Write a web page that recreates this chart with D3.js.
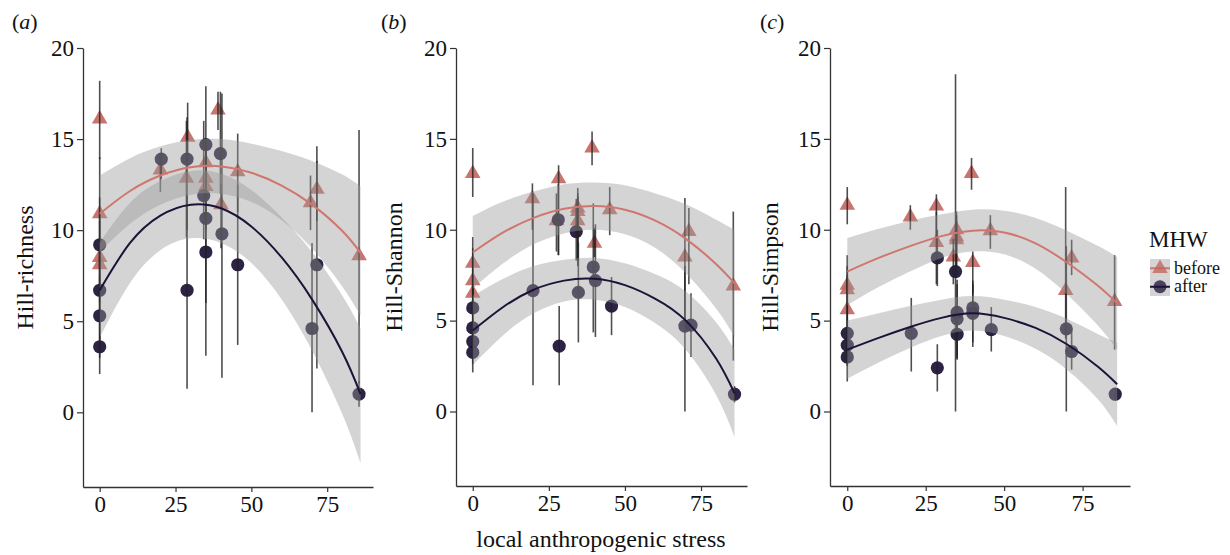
<!DOCTYPE html>
<html>
<head>
<meta charset="utf-8">
<script src="https://cdn.jsdelivr.net/npm/d3@7"></script>
<style>
  body { margin: 0; background: #fff; }
  text { font-family: "Liberation Serif", "Times New Roman", serif; fill: #111; }
</style>
</head>
<body>
<div id="chart"></div>
<script>
// [x, y, errLow, errHigh]
const beforeA = [
  [0, 16.1, 13.9, 18.2], [0, 10.9, 8.0, 11.8], [0, 8.5, 6.0, 11.0], [0, 8.1, 5.5, 10.5],
  [20, 13.3, 12.1, 14.2], [29, 15.1, 13.5, 17.0], [28.6, 12.85, 9.6, 16.0],
  [35, 13.7, 11.5, 15.0], [35, 12.85, 10.5, 14.5], [35, 12.4, 10.0, 14.8],
  [39, 16.6, 15.5, 17.6], [40, 11.4, 9.0, 12.5], [45.5, 13.2, 11.0, 15.3],
  [69.5, 11.5, 10.0, 13.0], [71.6, 12.25, 10.5, 14.6], [85.5, 8.6, 1.6, 15.5]
];
const afterA = [
  [0, 9.2, 6.5, 14.0], [0, 6.7, 4.0, 9.5], [0, 5.3, 3.0, 7.5], [0, 3.6, 2.1, 5.0],
  [20.3, 13.9, 12.8, 14.5], [28.8, 13.9, 10.0, 16.2], [28.8, 6.7, 1.3, 12.0],
  [35, 14.7, 12.5, 17.9], [34.3, 11.9, 9.5, 16.0], [35, 10.65, 6.0, 15.0], [35, 8.8, 3.1, 13.0],
  [39.8, 14.2, 12.0, 17.6], [40.3, 9.8, 1.9, 17.5], [45.5, 8.1, 3.7, 12.5],
  [70, 4.6, 0, 9.3], [71.6, 8.1, 2.4, 13.8], [85.5, 1.0, 0.3, 1.7]
];
const beforeB = [
  [0, 13.1, 11.8, 14.5], [0, 8.15, 6.5, 9.6], [0, 7.2, 5.5, 9.0], [0, 6.5, 4.5, 8.5],
  [19.6, 11.7, 10.0, 12.55], [28.2, 12.8, 8.6, 13.55], [27.5, 10.5, 8.8, 12.0],
  [34.5, 11.2, 9.0, 12.3], [34.5, 11.0, 8.3, 11.8], [34.5, 10.5, 8.0, 12.0],
  [39.2, 14.5, 13.55, 15.4], [40, 9.25, 8.5, 10.1], [45, 11.1, 9.7, 12.35],
  [69.7, 8.5, 5.0, 11.75], [71, 9.9, 7.0, 11.2], [85.6, 6.9, 2.8, 11.0]
];
const afterB = [
  [0, 5.7, 4.2, 7.5], [0, 4.6, 3.0, 6.2], [0, 3.85, 2.6, 5.0], [0, 3.25, 2.15, 4.5],
  [19.8, 6.65, 1.45, 12.0], [28.4, 3.6, 1.45, 5.8], [28.1, 10.55, 8.6, 12.5],
  [34, 9.9, 8.3, 11.7], [34.7, 6.55, 3.8, 9.3], [39.6, 7.95, 4.35, 11.45],
  [40.3, 7.2, 4.1, 10.3], [45.6, 5.8, 4.2, 7.4], [69.7, 4.7, 0, 8.0],
  [71.7, 4.75, 3.0, 6.5], [86, 0.95, 0.5, 1.4]
];
const beforeC = [
  [0, 11.35, 10.3, 12.35], [0, 6.95, 5.5, 8.6], [0, 6.7, 5.0, 8.0], [0, 5.6, 4.5, 7.5],
  [20.1, 10.7, 10.0, 11.35], [28.4, 11.3, 9.5, 11.95], [28.4, 9.3, 7.0, 11.0],
  [34.8, 10.0, 8.5, 11.0], [34.8, 9.6, 8.0, 10.8], [34.8, 9.45, 7.5, 10.5], [33.8, 8.5, 7.0, 9.5],
  [39.6, 13.1, 12.2, 13.95], [40, 8.2, 6.5, 8.8], [45.6, 9.95, 8.95, 10.8],
  [69.6, 6.65, 4.0, 12.35], [71.5, 8.45, 7.5, 9.45], [85.2, 6.05, 3.4, 8.6]
];
const afterC = [
  [0, 4.3, 3.0, 5.5], [0, 3.65, 2.5, 5.0], [0, 3.0, 1.65, 4.4],
  [20.4, 4.3, 2.2, 6.25], [28.7, 2.4, 1.1, 3.7], [28.7, 8.45, 6.9, 10.0],
  [34.5, 7.7, 0, 18.55], [35, 5.45, 2.85, 7.25], [35, 5.1, 3.0, 7.0], [35, 4.25, 2.9, 5.5],
  [40, 5.7, 3.55, 7.0], [40, 5.4, 3.8, 7.2], [45.9, 4.5, 3.3, 5.75],
  [69.8, 4.55, 0, 9.1], [71.5, 3.3, 2.3, 4.5], [85.4, 0.95, 0.6, 1.3]
];

// quadratic fits (with confidence band) read at these stress values
const fitX = [0, 10, 20, 30, 40, 50, 60, 70, 80, 86];
const fitBeforeA = [10.9, 12.15, 13.0, 13.45, 13.5, 13.15, 12.45, 11.4, 9.95, 8.75];
const loBeforeA  = [8.8, 10.35, 11.4, 11.95, 12.0, 11.55, 10.55, 9.0, 6.9, 5.3];
const hiBeforeA  = [13.0, 13.95, 14.6, 14.95, 15.0, 14.75, 14.35, 13.8, 13.05, 12.4];
const fitAfterA  = [6.7, 9.3, 10.8, 11.4, 11.2, 10.2, 8.5, 6.2, 3.3, 1.0];
const loAfterA   = [4.1, 7.1, 8.9, 9.55, 9.3, 8.2, 6.2, 3.4, -0.1, -2.8];
const hiAfterA   = [9.3, 11.5, 12.7, 13.25, 13.1, 12.2, 10.7, 8.8, 6.4, 4.6];
const fitBeforeB = [8.75, 9.85, 10.65, 11.15, 11.3, 11.1, 10.5, 9.5, 8.1, 7.05];
const loBeforeB  = [6.75, 8.15, 9.2, 9.8, 10.0, 9.75, 9.0, 7.6, 5.65, 4.1];
const hiBeforeB  = [10.75, 11.55, 12.1, 12.5, 12.6, 12.45, 12.0, 11.4, 10.55, 10.0];
const fitAfterB  = [4.45, 5.75, 6.7, 7.2, 7.3, 6.95, 6.2, 5.0, 2.9, 1.0];
const loAfterB   = [2.55, 4.2, 5.4, 6.05, 6.15, 5.75, 4.85, 3.4, 0.9, -1.4];
const hiAfterB   = [6.35, 7.3, 8.0, 8.35, 8.45, 8.15, 7.55, 6.6, 4.9, 3.4];
const fitBeforeC = [7.7, 8.45, 9.1, 9.65, 9.95, 9.85, 9.25, 8.2, 6.9, 5.95];
const loBeforeC  = [5.85, 6.85, 7.7, 8.45, 8.8, 8.65, 7.85, 6.45, 4.7, 3.4];
const hiBeforeC  = [9.55, 10.05, 10.5, 10.85, 11.1, 11.05, 10.65, 9.95, 9.1, 8.5];
const fitAfterC  = [3.4, 4.05, 4.65, 5.15, 5.4, 5.15, 4.6, 3.7, 2.45, 1.5];
const loAfterC   = [1.8, 2.7, 3.5, 4.15, 4.45, 4.15, 3.45, 2.3, 0.65, -0.8];
const hiAfterC   = [5.0, 5.4, 5.8, 6.15, 6.35, 6.15, 5.75, 5.1, 4.25, 3.8];

const xTicks = [0, 25, 50, 75];
const yTicks = [0, 5, 10, 15, 20];
const groups = ["before", "after"];

const colBefore = "#c2625b", lineBefore = "#cf776f";
const colAfter = "#1b1035", lineAfter = "#1e1238";

const W = 1230, H = 555;
const svg = d3.select("#chart").append("svg")
  .attr("width", W).attr("height", H)
  .style("background", "#fff");

const panels = [
  { tag: "a", title: "Hill-richness", left: 83, right: 373, bottom: 487, titleX: 27, tagX: 12,
    before: beforeA, after: afterA,
    fits: [[fitBeforeA, loBeforeA, hiBeforeA], [fitAfterA, loAfterA, hiAfterA]] },
  { tag: "b", title: "Hill-Shannon", left: 456, right: 747, bottom: 486, titleX: 396, tagX: 381,
    before: beforeB, after: afterB,
    fits: [[fitBeforeB, loBeforeB, hiBeforeB], [fitAfterB, loAfterB, hiAfterB]] },
  { tag: "c", title: "Hill-Simpson", left: 830, right: 1130, bottom: 486, titleX: 772, tagX: 760,
    before: beforeC, after: afterC,
    fits: [[fitBeforeC, loBeforeC, hiBeforeC], [fitAfterC, loAfterC, hiAfterC]] }
];

const plotTop = 48;
const tri = d3.symbol(d3.symbolTriangle).size(105);

panels.forEach(p => {
  const x = d3.scaleLinear().domain([-5.5, 90.1]).range([p.left, p.right]);
  const y = d3.scaleLinear().domain([-4.1, 20]).range([p.bottom, plotTop]);
  const g = svg.append("g");

  // points
  g.append("g").selectAll("path")
    .data(p.before).join("path")
    .attr("d", tri)
    .attr("transform", d => `translate(${x(d[0])},${y(d[1])})`)
    .attr("fill", colBefore).attr("fill-opacity", 0.88);
  g.append("g").selectAll("circle")
    .data(p.after).join("circle")
    .attr("cx", d => x(d[0])).attr("cy", d => y(d[1])).attr("r", 6.6)
    .attr("fill", colAfter).attr("fill-opacity", 0.92);

  // error bars
  g.append("g").selectAll("line")
    .data(p.before.concat(p.after)).join("line")
    .attr("x1", d => x(d[0])).attr("x2", d => x(d[0]))
    .attr("y1", d => y(d[2])).attr("y2", d => y(d[3]))
    .attr("stroke", "#222").attr("stroke-opacity", 0.8).attr("stroke-width", 1.6);

  // confidence bands
  const area = d3.area()
    .x((d, i) => x(fitX[i]))
    .y0(d => y(d[0])).y1(d => y(d[1]))
    .curve(d3.curveNatural);
  p.fits.forEach(f => {
    g.append("path")
      .datum(f[1].map((lo, i) => [lo, f[2][i]]))
      .attr("d", area)
      .attr("fill", "#999").attr("fill-opacity", 0.42);
  });

  // fitted curves
  const line = d3.line()
    .x((d, i) => x(fitX[i])).y(d => y(d))
    .curve(d3.curveNatural);
  p.fits.forEach((f, k) => {
    g.append("path").datum(f[0]).attr("d", line)
      .attr("fill", "none")
      .attr("stroke", k === 0 ? lineBefore : lineAfter)
      .attr("stroke-width", 2);
  });

  // axes
  const ax = g.append("g").attr("transform", `translate(0,${p.bottom})`)
    .call(d3.axisBottom(x).tickValues(xTicks).tickSize(5).tickSizeOuter(0).tickPadding(4));
  const ay = g.append("g").attr("transform", `translate(${p.left},0)`)
    .call(d3.axisLeft(y).tickValues(yTicks).tickSize(6).tickSizeOuter(0).tickPadding(3));
  [ax, ay].forEach(a => {
    a.select(".domain").attr("stroke", "#333").attr("stroke-width", 1.3);
    a.selectAll(".tick line").attr("stroke", "#333").attr("stroke-width", 1.2);
    a.selectAll(".tick text").attr("font-size", 23)
      .attr("font-family", "Liberation Serif").attr("fill", "#111");
  });

  g.append("text")
    .attr("transform", `translate(${p.titleX},${(plotTop + p.bottom) / 2}) rotate(-90)`)
    .attr("text-anchor", "middle").attr("dominant-baseline", "middle")
    .attr("font-size", 24).text(p.title);

  const t = g.append("text").attr("x", p.tagX).attr("y", 29).attr("font-size", 22);
  t.append("tspan").text("(");
  t.append("tspan").attr("font-style", "italic").text(p.tag);
  t.append("tspan").text(")");
});

svg.append("text")
  .attr("x", 601).attr("y", 547)
  .attr("text-anchor", "middle").attr("font-size", 24)
  .text("local anthropogenic stress");

// legend
const lg = svg.append("g").attr("transform", "translate(1149,0)");
lg.append("text").attr("x", 0).attr("y", 247).attr("font-size", 23).text("MHW");
groups.forEach((grp, i) => {
  const ky = 259 + i * 18.5;
  lg.append("rect").attr("x", 1).attr("y", ky).attr("width", 20).attr("height", 18.5)
    .attr("fill", "#999").attr("fill-opacity", 0.42);
  lg.append("line").attr("x1", 1).attr("x2", 21).attr("y1", ky + 9.25).attr("y2", ky + 9.25)
    .attr("stroke", i === 0 ? lineBefore : lineAfter).attr("stroke-width", 2);
  if (i === 0) {
    lg.append("path").attr("d", tri)
      .attr("transform", `translate(11,${ky + 9.5})`)
      .attr("fill", colBefore).attr("fill-opacity", 0.75);
  } else {
    lg.append("circle").attr("cx", 11).attr("cy", ky + 9.25).attr("r", 6.5)
      .attr("fill", colAfter).attr("fill-opacity", 0.75);
  }
  lg.append("text").attr("x", 25).attr("y", ky + 14.5).attr("font-size", 18).text(grp);
});
</script>
</body>
</html>
